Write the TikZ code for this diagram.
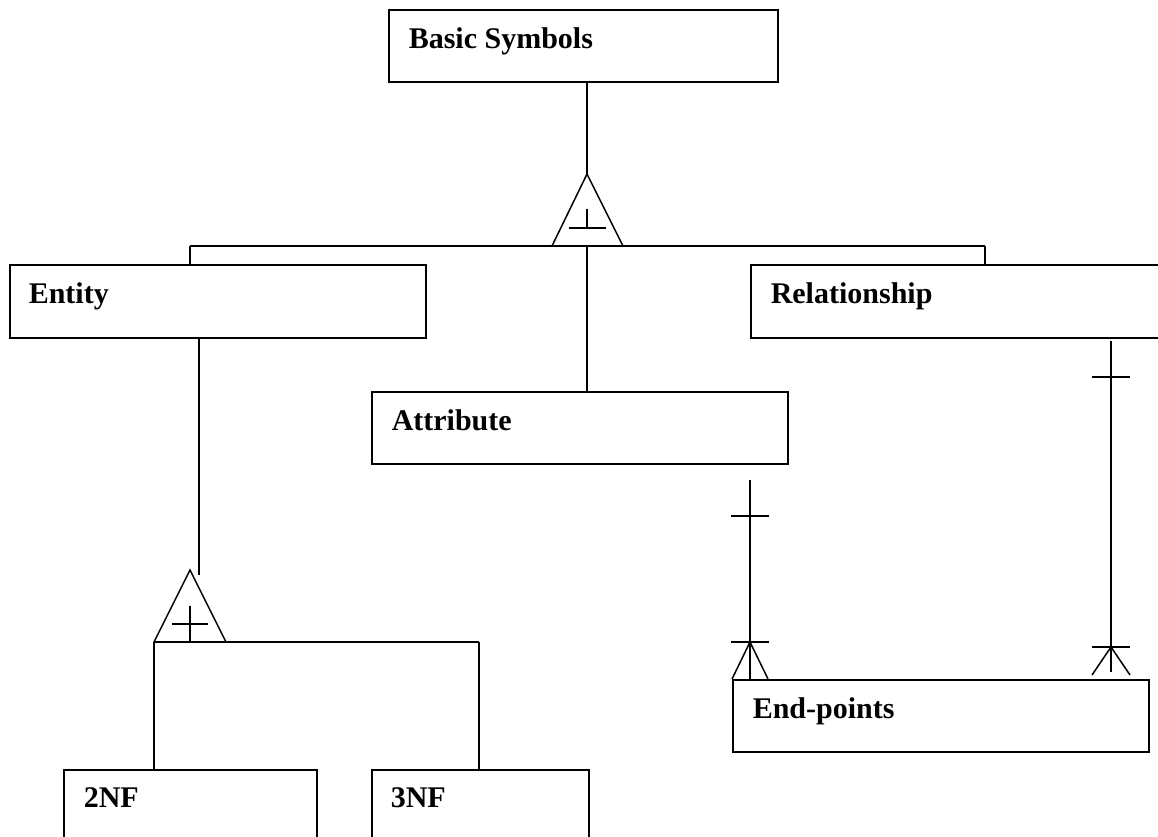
\documentclass[tikz,border=0pt]{standalone}
\usepackage{fontspec}
\setmainfont{Liberation Serif}
\begin{document}
\begin{tikzpicture}[x=1pt,y=-1pt,
  line width=1.5pt,
  box/.style={draw, rectangle, anchor=north west, inner sep=0pt, line width=1.5pt},
  lbl/.style={anchor=base west, inner sep=0pt, font=\fontsize{30}{36}\selectfont\bfseries},
  conn/.style={line width=1.5pt}]
\useasboundingbox (0,0) rectangle (1158,836);
\begin{scope}
\clip (0,0) rectangle (1158,836);
% boxes
\node[box, minimum width=389pt, minimum height=72pt] (basic) at (388,9) {};
\node[box, minimum width=416pt, minimum height=73pt] (entity) at (9,264) {};
\node[box, minimum width=420pt, minimum height=73pt] (rel) at (750,264) {};
\node[box, minimum width=416pt, minimum height=72pt] (attr) at (371,391) {};
\node[box, minimum width=416pt, minimum height=72pt] (endp) at (732,679) {};
\node[box, minimum width=253pt, minimum height=100pt] (nf2) at (63,769) {};
\node[box, minimum width=217pt, minimum height=100pt] (nf3) at (371,769) {};
% labels
\node[lbl] at ([shift={(20,39)}]basic.north west) {Basic Symbols};
\node[lbl] at ([shift={(19,39)}]entity.north west) {Entity};
\node[lbl] at ([shift={(20,39)}]rel.north west) {Relationship};
\node[lbl] at ([shift={(20,39)}]attr.north west) {Attribute};
\node[lbl] at ([shift={(20,39)}]endp.north west) {End-points};
\node[lbl] at ([shift={(20,38)}]nf2.north west) {2NF};
\node[lbl] at ([shift={(19,38)}]nf3.north west) {3NF};
% generalisation triangle 1
\coordinate (apex1) at (587,174);
\coordinate (bl1) at (552,246);
\coordinate (br1) at (623,246);
\draw[conn] (bl1) -- (apex1) -- (br1);
\draw[conn] (587,209) -- (587,228);
\draw[conn] (569,228) -- (606,228);
\draw[conn] (basic.south -| apex1) -- (apex1);
\coordinate (b1l) at (190,246);
\coordinate (b1r) at (985,246);
\draw[conn] (b1l) -- (b1r);
\draw[conn] (b1l) -- (entity.north -| b1l);
\draw[conn] (b1r) -- (rel.north -| b1r);
\draw[conn] (apex1 |- b1l) -- (attr.north -| apex1);
% generalisation triangle 2
\coordinate (apex2) at (190,570);
\coordinate (bl2) at (154,642);
\coordinate (br2) at (226,642);
\draw[conn] (bl2) -- (apex2) -- (br2);
\draw[conn] (190,606) -- (190,642);
\draw[conn] (172,624) -- (208,624);
\coordinate (e2) at (199,575);
\draw[conn] (entity.south -| e2) -- (e2);
\coordinate (b2r) at (479,642);
\draw[conn] (bl2) -- (b2r);
\draw[conn] (bl2) -- (nf2.north -| bl2);
\draw[conn] (b2r) -- (nf3.north -| b2r);
% attribute -> end-points
\coordinate (a1) at (750,480);
\draw[conn] (a1) -- (endp.north -| a1);
\draw[conn] (731,516) -- (769,516);
\draw[conn] (731,642) -- (769,642);
\draw[conn] (732,679) -- (750,642) -- (768,679);
% relationship -> end-points
\coordinate (r1) at (1111,341);
\coordinate (r2) at (1111,672);
\draw[conn] (r1) -- (r2);
\draw[conn] (1092,377) -- (1130,377);
\draw[conn] (1092,647) -- (1130,647);
\draw[conn] (1092,675) -- (1111,647) -- (1130,675);
\end{scope}
\end{tikzpicture}
\end{document}
